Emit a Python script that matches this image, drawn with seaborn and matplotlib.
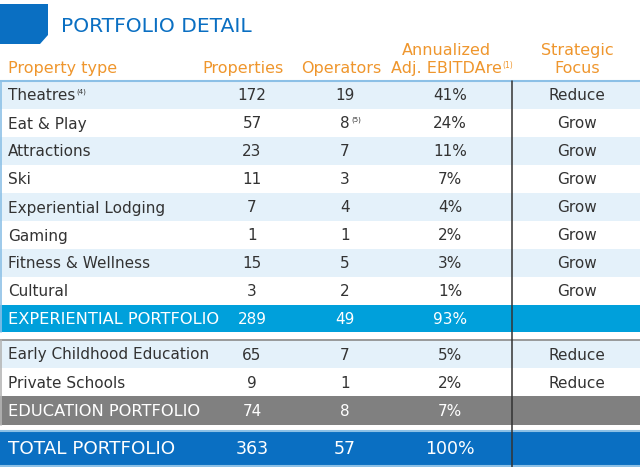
"""
Portfolio detail table
"""
import matplotlib
matplotlib.use("Agg")
import matplotlib.pyplot as plt
from matplotlib.patches import Polygon
import seaborn as sns

# ---- data ----
title = "PORTFOLIO DETAIL"
headers = ["Property type", "Properties", "Operators", "Annualized\nAdj. EBITDAre", "Strategic\nFocus"]

exp_types = ["Theatres", "Eat & Play", "Attractions", "Ski", "Experiential Lodging",
             "Gaming", "Fitness & Wellness", "Cultural"]
exp_properties = [172, 57, 23, 11, 7, 1, 15, 3]
exp_operators = [19, 8, 7, 3, 4, 1, 5, 2]
exp_ebitda = [41, 24, 11, 7, 4, 2, 3, 1]
exp_focus = ["Reduce", "Grow", "Grow", "Grow", "Grow", "Grow", "Grow", "Grow"]

edu_types = ["Early Childhood Education", "Private Schools"]
edu_properties = [65, 9]
edu_operators = [7, 1]
edu_ebitda = [5, 2]
edu_focus = ["Reduce", "Reduce"]

subtotal_labels = ["EXPERIENTIAL PORTFOLIO", "EDUCATION PORTFOLIO", "TOTAL PORTFOLIO"]
subtotal_properties = [289, 74, 363]
subtotal_operators = [49, 8, 57]
subtotal_ebitda = [93, 7, 100]

# footnote markers: (row label, column) -> marker
footnotes = {("Theatres", "type"): "(4)", ("Eat & Play", "operators"): "(5)"}

# ---- style ----
sns.set_style("white")
plt.rcParams["font.family"] = ["DejaVu Sans"]

TEXT = "#333333"
ORANGE = "#EF962D"
BLUE = "#0A6FC2"
EXP_BLUE = "#00A0DB"
GRAY = "#808080"
STRIPE = "#E4F1FA"
LINE_BLUE = "#8CC0E6"

col_x = {"type": 8, "properties": 252, "operators": 345, "ebitda": 450, "focus": 577}
ROW_H = 28

fig = plt.figure(figsize=(6.4, 4.67), dpi=100)
ax = fig.add_axes([0, 0, 1, 1])
ax.set_xlim(0, 640)
ax.set_ylim(467, 0)
ax.axis("off")

# title + icon
ax.add_patch(Polygon([(0, 4), (48, 4), (48, 35), (40, 44), (0, 44)], closed=True,
                     facecolor=BLUE, edgecolor="none"))
ax.text(61, 32, title, color=BLUE, fontsize=14.6, va="baseline", ha="left")

# header
hfs = 11.5
ax.text(col_x["type"], 73, headers[0], color=ORANGE, fontsize=hfs, va="baseline", ha="left")
ax.text(243, 73, headers[1], color=ORANGE, fontsize=hfs, va="baseline", ha="center")
ax.text(341, 73, headers[2], color=ORANGE, fontsize=hfs, va="baseline", ha="center")
ann1, ann2 = headers[3].split("\n")
ax.text(446, 55, ann1, color=ORANGE, fontsize=hfs, va="baseline", ha="center")
t = ax.text(446, 73, ann2, color=ORANGE, fontsize=hfs, va="baseline", ha="center")
ax.annotate("(1)", xy=(1.0, 1.0), xycoords=t, xytext=(1, 0), textcoords="offset points",
            color=ORANGE, fontsize=5.5, va="top", ha="left")
st1, st2 = headers[4].split("\n")
ax.text(577, 55, st1, color=ORANGE, fontsize=hfs, va="baseline", ha="center")
ax.text(577, 73, st2, color=ORANGE, fontsize=hfs, va="baseline", ha="center")


def draw_row(y0, label, props, ops, ebitda, focus, fill=None, color=TEXT, fs=11, lfs=None, h=ROW_H):
    if fill is not None:
        ax.axhspan(y0, y0 + h, xmin=0, xmax=1, facecolor=fill, edgecolor="none", zorder=0)
    base = y0 + h / 2 + 5.5
    t = ax.text(col_x["type"], base, label, color=color, fontsize=lfs or fs, va="baseline", ha="left")
    if (label, "type") in footnotes:
        ax.annotate(footnotes[(label, "type")], xy=(1.0, 1.0), xycoords=t, xytext=(1, 0),
                    textcoords="offset points", color=color, fontsize=5, va="top", ha="left")
    ax.text(col_x["properties"], base, str(props), color=color, fontsize=fs, va="baseline", ha="center")
    t = ax.text(col_x["operators"], base, str(ops), color=color, fontsize=fs, va="baseline", ha="center")
    if (label, "operators") in footnotes:
        ax.annotate(footnotes[(label, "operators")], xy=(1.0, 1.0), xycoords=t, xytext=(1, 0),
                    textcoords="offset points", color=color, fontsize=5, va="top", ha="left")
    ax.text(col_x["ebitda"], base, f"{ebitda}%", color=color, fontsize=fs, va="baseline", ha="center")
    if focus:
        ax.text(col_x["focus"], base, focus, color=color, fontsize=fs, va="baseline", ha="center")


# experiential rows
y = 81
for i, lab in enumerate(exp_types):
    draw_row(y, lab, exp_properties[i], exp_operators[i], exp_ebitda[i], exp_focus[i],
             fill=STRIPE if i % 2 == 0 else None)
    y += ROW_H
draw_row(y, subtotal_labels[0], subtotal_properties[0], subtotal_operators[0], subtotal_ebitda[0],
         None, fill=EXP_BLUE, color="white", lfs=11.7, h=27)
ax.plot([0, 640], [81, 81], color=LINE_BLUE, lw=1.5, zorder=1)
ax.plot([1, 1], [81, 332], color=LINE_BLUE, lw=1.2, zorder=1)

# education rows
y = 340
ax.plot([0, 640], [y, y], color="#8a8a8a", lw=1.2, zorder=1)
for i, lab in enumerate(edu_types):
    draw_row(y, lab, edu_properties[i], edu_operators[i], edu_ebitda[i], edu_focus[i],
             fill=STRIPE if i % 2 == 0 else None)
    y += ROW_H
draw_row(y, subtotal_labels[1], subtotal_properties[1], subtotal_operators[1], subtotal_ebitda[1],
         None, fill=GRAY, color="white", lfs=11.7, h=29)
ax.plot([1, 1], [340, 425], color="#b5b5b5", lw=1.2, zorder=1)

# total row
y = 432
draw_row(y, subtotal_labels[2], subtotal_properties[2], subtotal_operators[2], subtotal_ebitda[2],
         None, fill=BLUE, color="white", fs=12.5, lfs=13.2, h=34)
ax.plot([0, 640], [431, 431], color=LINE_BLUE, lw=1.5, zorder=1)
ax.plot([0, 640], [466, 466], color=LINE_BLUE, lw=1.5, zorder=1)

# strategic focus divider
ax.plot([512, 512], [81, 467], color="#333333", lw=1.1, zorder=2)

fig.savefig("out.png", dpi=100)
plt.close(fig)
